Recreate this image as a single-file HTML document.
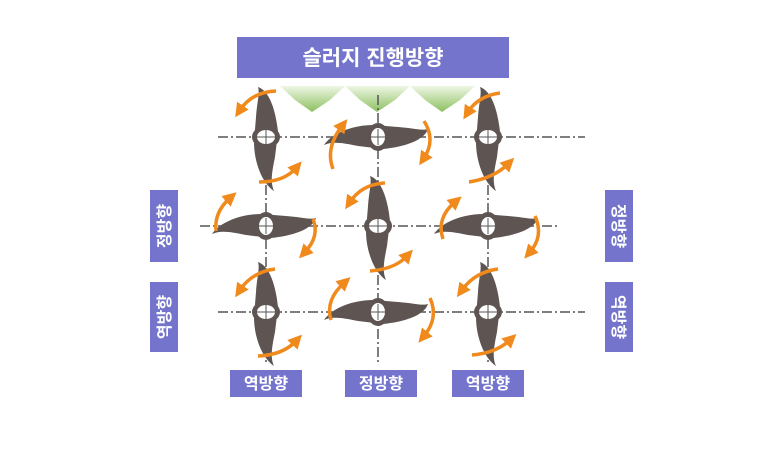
<!DOCTYPE html>
<html><head><meta charset="utf-8"><style>
body{margin:0;background:#fff;width:778px;height:462px;overflow:hidden}
.t{font-family:"Liberation Sans","Noto Sans CJK KR",sans-serif;font-weight:bold;fill:#fff}
</style></head><body>
<svg width="778" height="462" viewBox="0 0 778 462" xmlns="http://www.w3.org/2000/svg">
<defs>
<marker id="ah" markerWidth="4" markerHeight="4" refX="1.5" refY="2" orient="auto" markerUnits="strokeWidth">
<path d="M0,0 L4,2 L0,4 Z" fill="#f08a1c"/></marker>
<linearGradient id="gr" x1="0" y1="0" x2="0" y2="1"><stop offset="0" stop-color="#eef6e4"/><stop offset="1" stop-color="#8cc060"/></linearGradient>
<g id="vb">
<path d="M-8,-50 C4,-46 10,-25 12,-5 L9,20 C6,35 4,45 8,54 C-4,46 -12,25 -12,5 L-10,-20 C-9,-35 -6,-44 -8,-50 Z" fill="#5e5552"/>
<ellipse rx="14" ry="11" fill="#5e5552"/>
<ellipse rx="9" ry="7" fill="#fff"/>
</g>
</defs>
<!-- green arrows -->
<g fill="url(#gr)">
<path d="M280,86 L345,86 L330,100 L312,112 L295,100 Z"/>
<path d="M345,86 L410,86 L395,100 L377,112 L360,100 Z"/>
<path d="M410,86 L475,86 L460,100 L442,112 L425,100 Z"/>
</g>
<!-- grid lines -->
<g stroke="#555" stroke-width="1.5" stroke-dasharray="10,3,2,3" fill="none">
<line x1="218" y1="137" x2="585" y2="137"/>
<line x1="200" y1="226" x2="560" y2="226"/>
<line x1="218" y1="312" x2="585" y2="312"/>
<line x1="266" y1="95" x2="266" y2="362"/>
<line x1="378" y1="95" x2="378" y2="365"/>
<line x1="488" y1="95" x2="488" y2="362"/>
</g>
<!-- blades -->
<use href="#vb" transform="translate(266,137)"/>
<use href="#vb" transform="translate(378,137) rotate(90)"/>
<use href="#vb" transform="translate(488,137)"/>
<use href="#vb" transform="translate(266,226) rotate(90)"/>
<use href="#vb" transform="translate(378,226)"/>
<use href="#vb" transform="translate(488,226) rotate(90)"/>
<use href="#vb" transform="translate(266,312)"/>
<use href="#vb" transform="translate(378,312) rotate(90)"/>
<use href="#vb" transform="translate(488,312)"/>
<!-- crosshairs over rings -->
<g stroke="#555" stroke-width="1">
<line x1="256" y1="137" x2="276" y2="137"/><line x1="266" y1="129" x2="266" y2="145"/>
<line x1="368" y1="137" x2="388" y2="137"/><line x1="378" y1="129" x2="378" y2="145"/>
<line x1="478" y1="137" x2="498" y2="137"/><line x1="488" y1="129" x2="488" y2="145"/>
<line x1="256" y1="226" x2="276" y2="226"/><line x1="266" y1="218" x2="266" y2="234"/>
<line x1="368" y1="226" x2="388" y2="226"/><line x1="378" y1="218" x2="378" y2="234"/>
<line x1="478" y1="226" x2="498" y2="226"/><line x1="488" y1="218" x2="488" y2="234"/>
<line x1="256" y1="312" x2="276" y2="312"/><line x1="266" y1="304" x2="266" y2="320"/>
<line x1="368" y1="312" x2="388" y2="312"/><line x1="378" y1="304" x2="378" y2="320"/>
<line x1="478" y1="312" x2="498" y2="312"/><line x1="488" y1="304" x2="488" y2="320"/>
</g>
<!-- orange arrows -->
<g stroke="#f08a1c" stroke-width="3.5" fill="none" marker-end="url(#ah)">
<path d="M276,91 Q252,92 240,110"/>
<path d="M259,182 Q284,182 296,168"/>
<path d="M333,169 Q325,148 342,126"/>
<path d="M424,121 Q436,140 424,158"/>
<path d="M500,93 Q478,96 468,112"/>
<path d="M469,182 Q494,178 508,164"/>
<path d="M216,231 Q214,212 230,198"/>
<path d="M313,219 Q320,236 305,252"/>
<path d="M385,183 Q362,184 350,202"/>
<path d="M370,271 Q395,269 407,256"/>
<path d="M443,239 Q436,218 455,202"/>
<path d="M535,216 Q544,236 530,252"/>
<path d="M275,269 Q252,272 240,290"/>
<path d="M258,356 Q283,355 296,341"/>
<path d="M331,320 Q325,300 344,283"/>
<path d="M430,298 Q439,318 424,336"/>
<path d="M498,269 Q475,272 462,290"/>
<path d="M472,355 Q496,353 510,340"/>
</g>
<!-- label boxes -->
<rect x="237" y="37" width="272" height="41" fill="#7474cc"/>
<text class="t" x="373" y="65" font-size="21" text-anchor="middle">슬러지 진행방향</text>
<rect x="230" y="370" width="72" height="27" fill="#7474cc"/>
<text class="t" x="266" y="389" font-size="16" text-anchor="middle">역방향</text>
<rect x="345" y="370" width="72" height="27" fill="#7474cc"/>
<text class="t" x="381" y="389" font-size="16" text-anchor="middle">정방향</text>
<rect x="452" y="370" width="72" height="27" fill="#7474cc"/>
<text class="t" x="488" y="389" font-size="16" text-anchor="middle">역방향</text>
<rect x="150" y="190" width="28" height="72" fill="#7474cc"/>
<text class="t" font-size="16" text-anchor="middle" transform="translate(170,226) rotate(-90)">정방향</text>
<rect x="150" y="282" width="28" height="70" fill="#7474cc"/>
<text class="t" font-size="16" text-anchor="middle" transform="translate(170,317) rotate(-90)">역방향</text>
<rect x="605" y="190" width="28" height="72" fill="#7474cc"/>
<text class="t" font-size="16" text-anchor="middle" transform="translate(613,226) rotate(90)">정방향</text>
<rect x="605" y="282" width="28" height="70" fill="#7474cc"/>
<text class="t" font-size="16" text-anchor="middle" transform="translate(613,317) rotate(90)">역방향</text>
</svg>
</body></html>
